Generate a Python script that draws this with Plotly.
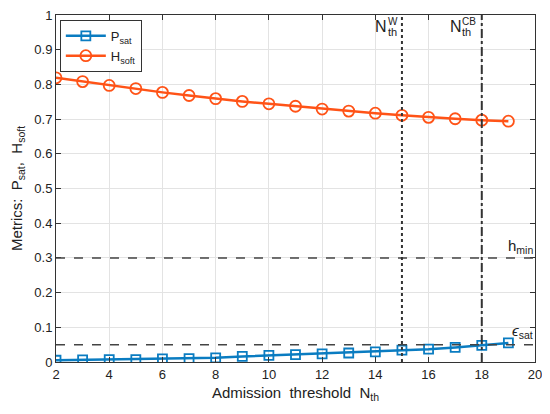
import plotly.graph_objects as go

# admission threshold values
n_th = list(range(2, 20))
p_sat = [0.005, 0.006, 0.007, 0.007, 0.009, 0.010, 0.012, 0.016, 0.019, 0.021,
         0.0235, 0.026, 0.029, 0.034, 0.037, 0.042, 0.048, 0.055]
h_soft = [0.819, 0.808, 0.797, 0.788, 0.777, 0.768, 0.759, 0.751, 0.744, 0.737,
          0.729, 0.723, 0.717, 0.711, 0.705, 0.701, 0.697, 0.694]

eps_sat = 0.05
h_min = 0.3
n_w = 15
n_cb = 18

BLUE = "#0a7cc1"
ORANGE = "#ff5317"
FONT = "Liberation Sans, Arial, sans-serif"

fig = go.Figure()

fig.add_scatter(x=n_th, y=p_sat, name="P<sub>sat</sub>", mode="lines+markers",
                line=dict(color=BLUE, width=2.5),
                marker=dict(symbol="square-open", size=9, color=BLUE, line=dict(width=1.8)))
fig.add_scatter(x=n_th, y=h_soft, name="H<sub>soft</sub>", mode="lines+markers",
                line=dict(color=ORANGE, width=2.5),
                marker=dict(symbol="circle-open", size=11, color=ORANGE, line=dict(width=1.8)))

# threshold lines
fig.add_hline(y=h_min, line=dict(color="#444", width=1.5, dash="dash"))
fig.add_hline(y=eps_sat, line=dict(color="#444", width=1.5, dash="dash"))
fig.add_vline(x=n_w, line=dict(color="#333", width=2, dash="dot"))
fig.add_vline(x=n_cb, line=dict(color="#333", width=2, dash="dashdot"))

# labels
def label(x, y, text, size, xanchor="right", yanchor="middle"):
    fig.add_annotation(x=x, y=y, xref="x", yref="y", text=text, showarrow=False,
                       font=dict(size=size, color="#222", family=FONT),
                       xanchor=xanchor, yanchor=yanchor, borderpad=0)

label(14.48, 0.966, "N", 16)
label(14.43, 0.982, "W", 10, xanchor="left")
label(14.43, 0.950, "th", 11, xanchor="left")
label(17.28, 0.966, "N", 16)
label(17.23, 0.982, "CB", 10, xanchor="left")
label(17.23, 0.950, "th", 11, xanchor="left")
label(19.95, 0.332, "h<sub>min</sub>", 15)
label(19.95, 0.088, "<i>ϵ</i><sub>sat</sub>", 15)

fig.update_layout(
    width=550, height=414,
    margin=dict(l=48, r=23, t=7, b=60),
    plot_bgcolor="white", paper_bgcolor="white",
    font=dict(family=FONT, size=13, color="#222"),
    showlegend=True,
    legend=dict(x=0.008, y=0.986, xanchor="left", yanchor="top",
                bgcolor="white", bordercolor="#333", borderwidth=1,
                font=dict(size=13), tracegroupgap=0, itemwidth=40),
    xaxis=dict(range=[2, 20], dtick=2, showgrid=True, gridcolor="#e3e3e3",
               showline=True, linecolor="#333", linewidth=1, mirror="allticks",
               ticks="inside", ticklen=5, tickcolor="#333", zeroline=False,
               automargin=False, ticklabeloverflow="allow",
               title=dict(text="Admission  threshold  N<sub>th</sub>", standoff=6,
                          font=dict(size=15))),
    yaxis=dict(range=[0, 1], dtick=0.1, showgrid=True, gridcolor="#e3e3e3",
               showline=True, linecolor="#333", linewidth=1, mirror="allticks",
               ticks="inside", ticklen=5, tickcolor="#333", zeroline=False,
               automargin=False, ticklabeloverflow="allow",
               title=dict(text="Metrics:  P<sub>sat</sub>,  H<sub>soft</sub>", standoff=8,
                          font=dict(size=15))),
)

fig.write_html("out.html")
